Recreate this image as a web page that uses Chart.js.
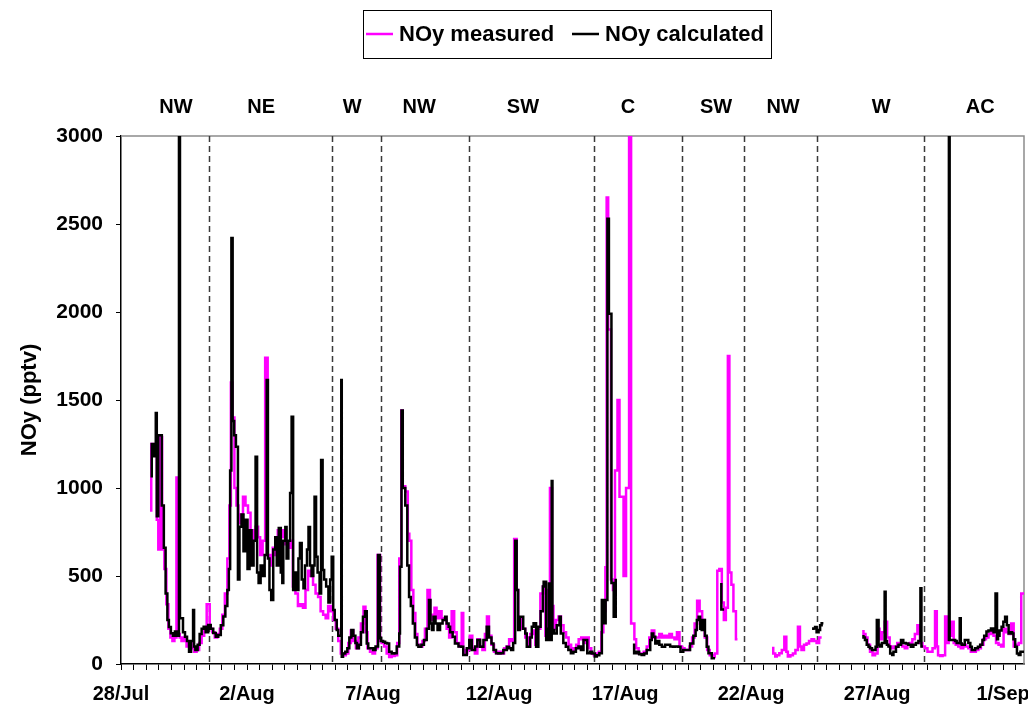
<!DOCTYPE html>
<html lang="en">
<head>
    <meta charset="UTF-8">
    <title>NOy measured vs calculated</title>
    <script src="https://cdn.jsdelivr.net/npm/chart.js"></script>
    <style>
        html, body { margin: 0; padding: 0; background: #fff; }
        #wrap { width: 1028px; height: 708px; }
    </style>
</head>
<body>
<div id="wrap"><canvas id="noyChart"></canvas></div>
<script>
// x values are days since 28 July 00:00
const xLabelDays = [0, 5, 10, 15, 20, 25, 30, 35];
const xLabels = ['28/Jul', '2/Aug', '7/Aug', '12/Aug', '17/Aug', '22/Aug', '27/Aug', '1/Sep'];

// air-mass sectors and the dashed boundaries between them
const sectorNames = ['NW', 'NE', 'W', 'NW', 'SW', 'C', 'SW', 'NW', 'W', 'AC'];
const sectorDays = [2.18, 5.56, 9.17, 11.83, 15.95, 20.12, 23.61, 26.27, 30.16, 34.09];
const boundaryDays = [3.49, 8.36, 10.30, 13.82, 18.77, 22.25, 24.73, 27.60, 31.87];

const measuredDays = [
    1.20, 1.34, 1.42, 1.48, 1.56, 1.63, 1.72, 1.80, 1.88, 1.96,
    2.04, 2.12, 2.20, 2.27, 2.33, 2.40, 2.50, 2.60, 2.70, 2.80,
    2.90, 3.00, 3.10, 3.20, 3.30, 3.40, 3.52, 3.62, 3.72, 3.82,
    3.92, 4.02, 4.12, 4.22, 4.30, 4.36, 4.42, 4.50, 4.58, 4.66,
    4.74, 4.84, 4.94, 5.04, 5.14, 5.24, 5.34, 5.44, 5.52, 5.62,
    5.72, 5.82, 5.92, 6.02, 6.12, 6.22, 6.32, 6.42, 6.52, 6.62,
    6.72, 6.82, 6.92, 7.02, 7.12, 7.22, 7.32, 7.42, 7.52, 7.62,
    7.72, 7.82, 7.92, 8.02, 8.12, 8.22, 8.32, 8.42, 8.52, 8.62,
    8.72, 8.82, 8.92, 9.02, 9.12, 9.22, 9.32, 9.42, 9.52, 9.62,
    9.70, 9.78, 9.88, 9.98, 10.08, 10.18, 10.28, 10.34, 10.44, 10.54,
    10.64, 10.74, 10.86, 10.96, 11.04, 11.12, 11.18, 11.28, 11.38, 11.44,
    11.52, 11.60, 11.68, 11.76, 11.86, 11.96, 12.06, 12.16, 12.26, 12.34,
    12.44, 12.52, 12.62, 12.72, 12.82, 12.92, 13.02, 13.12, 13.22, 13.32,
    13.42, 13.52, 13.58, 13.64, 13.74, 13.84, 13.94, 14.04, 14.14, 14.24,
    14.34, 14.44, 14.52, 14.60, 14.70, 14.80, 14.90, 15.00, 15.10, 15.20,
    15.30, 15.40, 15.50, 15.60, 15.70, 15.76, 15.84, 15.94, 16.04, 16.14,
    16.24, 16.34, 16.44, 16.54, 16.64, 16.74, 16.84, 16.92, 17.02, 17.10,
    17.16, 17.26, 17.36, 17.46, 17.56, 17.66, 17.76, 17.86, 17.96, 18.06,
    18.16, 18.26, 18.36, 18.46, 18.56, 18.66, 18.76, 18.86, 18.96, 19.06,
    19.14, 19.22, 19.27, 19.33, 19.44, 19.52, 19.60, 19.70, 19.78, 19.94,
    20.04, 20.16, 20.24, 20.37, 20.44, 20.54, 20.64, 20.74, 20.86, 20.96,
    21.06, 21.16, 21.26, 21.36, 21.46, 21.56, 21.66, 21.76, 21.86, 21.96,
    22.06, 22.16, 22.26, 22.36, 22.46, 22.56, 22.66, 22.76, 22.86, 22.96,
    23.06, 23.16, 23.26, 23.36, 23.46, 23.56, 23.66, 23.74, 23.84, 23.92,
    24.00, 24.08, 24.14, 24.22, 24.30, 24.40, 24.46, 24.50, 25.88, 25.96,
    26.02, 26.12, 26.22, 26.32, 26.40, 26.46, 26.56, 26.66, 26.76, 26.86,
    26.94, 27.00, 27.10, 27.20, 27.30, 27.40, 27.50, 27.60, 27.70, 27.80,
    27.90, 29.46, 29.54, 29.62, 29.72, 29.82, 29.92, 30.02, 30.10, 30.20,
    30.30, 30.40, 30.50, 30.60, 30.70, 30.80, 30.90, 31.00, 31.10, 31.20,
    31.30, 31.40, 31.50, 31.60, 31.70, 31.80, 31.90, 32.00, 32.10, 32.20,
    32.30, 32.37, 32.42, 32.50, 32.60, 32.70, 32.78, 32.84, 32.94, 33.04,
    33.12, 33.22, 33.32, 33.42, 33.52, 33.62, 33.72, 33.82, 33.92, 34.02,
    34.12, 34.22, 34.32, 34.42, 34.52, 34.62, 34.72, 34.82, 34.92, 35.02,
    35.12, 35.22, 35.32, 35.42, 35.52, 35.62, 35.72, 35.80, 35.83
];
const measuredNOy = [
    865, 1250, 1200, 820, 650, 1290, 650, 540, 340, 200,
    150, 130, 150, 1060, 170, 150, 130, 150, 100, 120,
    90, 70, 80, 120, 160, 200, 340, 200, 180, 150,
    170, 200, 280, 400, 600, 900, 1600, 1400, 1000, 900,
    800, 850, 950, 900, 860, 760, 700, 780, 720, 620,
    700, 1740, 620, 560, 660, 620, 760, 720, 760, 680,
    660, 700, 440, 400, 330, 340, 320, 420, 530, 500,
    450, 400, 380, 300, 280, 260, 330, 300, 250, 200,
    130, 60, 50, 60, 120, 190, 130, 90, 150, 230,
    325, 180, 90, 70, 60, 90, 620, 130, 120, 100,
    60, 40, 45, 50, 120, 600, 1440, 1010, 980, 740,
    700, 420, 290, 170, 110, 100, 130, 200, 420, 250,
    280, 320, 260, 300, 260, 250, 200, 150, 300, 180,
    120, 100, 290, 80, 60, 80, 160, 90, 60, 140,
    100, 80, 170, 270, 160, 110, 70, 60, 70, 60,
    90, 100, 140, 130, 710, 420, 200, 260, 200, 150,
    100, 170, 190, 110, 200, 400, 440, 160, 420, 1000,
    330, 200, 250, 270, 220, 180, 150, 110, 80, 90,
    110, 140, 150, 120, 150, 90, 60, 50, 60, 70,
    180, 300, 550, 2650, 1900, 480, 420, 1100, 1500, 950,
    500, 1000, 3300, 230, 140, 90, 60, 60, 70, 100,
    150, 190, 150, 150, 170, 150, 160, 150, 170, 150,
    140, 180, 100, 90, 80, 80, 100, 150, 230, 360,
    300, 250, 150, 80, 50, 40, 60, 530, 540, 350,
    250, 320, 1750, 520, 450, 300, 140, null, 98, 60,
    42, 50, 61, 80, 155, 70, 42, 50, 60, 80,
    212, 100, 80, 110, 117, 130, 140, 130, 120, 150,
    null, 193, 170, 150, 110, 70, 50, 60, 200, 140,
    180, 240, 150, 100, 90, 100, 120, 110, 100, 90,
    110, 120, 140, 170, 220, 120, 100, 90, 70, 70,
    90, 300, 100, 50, 45, 50, 270, 120, 160, 240,
    120, 110, 100, 90, 110, 100, 90, 70, 70, 80,
    90, 110, 140, 150, 170, 180, 160, 120, 110, 100,
    200, 180, 170, 230, 100, 110, 120, 400, 400
];

const calculatedDays = [
    1.22, 1.30, 1.38, 1.42, 1.48, 1.62, 1.70, 1.77, 1.84, 1.90,
    1.98, 2.06, 2.14, 2.22, 2.30, 2.34, 2.46, 2.54, 2.62, 2.70,
    2.78, 2.86, 2.90, 2.95, 3.04, 3.12, 3.20, 3.28, 3.36, 3.46,
    3.56, 3.66, 3.76, 3.86, 3.96, 4.06, 4.14, 4.22, 4.28, 4.33,
    4.38, 4.43, 4.49, 4.56, 4.64, 4.70, 4.78, 4.86, 4.94, 5.02,
    5.10, 5.18, 5.26, 5.34, 5.40, 5.46, 5.54, 5.62, 5.70, 5.78,
    5.83, 5.89, 5.96, 6.04, 6.12, 6.18, 6.26, 6.34, 6.40, 6.44,
    6.52, 6.57, 6.64, 6.71, 6.77, 6.83, 6.89, 6.96, 7.04, 7.10,
    7.17, 7.24, 7.30, 7.38, 7.44, 7.50, 7.56, 7.63, 7.68, 7.74,
    7.80, 7.88, 7.94, 8.00, 8.06, 8.14, 8.23, 8.30, 8.36, 8.42,
    8.48, 8.56, 8.62, 8.74, 8.76, 8.81, 8.90, 8.98, 9.06, 9.14,
    9.22, 9.30, 9.36, 9.44, 9.52, 9.60, 9.68, 9.75, 9.81, 9.90,
    10.00, 10.10, 10.20, 10.27, 10.32, 10.40, 10.48, 10.56, 10.64, 10.74,
    10.84, 10.94, 11.04, 11.07, 11.13, 11.18, 11.28, 11.36, 11.43, 11.50,
    11.58, 11.66, 11.74, 11.80, 11.92, 12.02, 12.13, 12.22, 12.28, 12.34,
    12.40, 12.48, 12.56, 12.66, 12.76, 12.86, 12.92, 13.00, 13.06, 13.16,
    13.25, 13.39, 13.50, 13.58, 13.72, 13.82, 13.92, 14.05, 14.14, 14.25,
    14.38, 14.51, 14.60, 14.70, 14.78, 14.88, 14.97, 15.06, 15.17, 15.31,
    15.40, 15.48, 15.56, 15.64, 15.70, 15.76, 15.83, 15.96, 16.04, 16.10,
    16.23, 16.30, 16.37, 16.47, 16.56, 16.65, 16.74, 16.77, 16.87, 16.92,
    16.98, 17.02, 17.09, 17.12, 17.18, 17.29, 17.40, 17.45, 17.55, 17.65,
    17.75, 17.85, 17.95, 18.05, 18.15, 18.25, 18.35, 18.50, 18.61, 18.70,
    18.80, 18.88, 18.98, 19.08, 19.16, 19.23, 19.30, 19.36, 19.46, 19.55,
    19.63, 19.68, 19.74, 20.36, 20.46, 20.56, 20.66, 20.76, 20.86, 20.93,
    21.00, 21.06, 21.12, 21.20, 21.26, 21.36, 21.46, 21.59, 21.70, 21.79,
    21.90, 21.98, 22.10, 22.20, 22.31, 22.44, 22.58, 22.71, 22.80, 22.85,
    22.92, 22.98, 23.04, 23.08, 23.17, 23.24, 23.31, 23.44, 23.57, 23.62,
    23.82, 23.88, 23.93, 23.95, 27.47, 27.54, 27.60, 27.68, 27.74, 27.80,
    27.87, 27.90, 29.46, 29.52, 29.59, 29.66, 29.72, 29.80, 29.85, 29.94,
    29.99, 30.06, 30.10, 30.19, 30.30, 30.34, 30.39, 30.45, 30.52, 30.60,
    30.65, 30.75, 30.85, 30.95, 31.04, 31.14, 31.24, 31.34, 31.44, 31.54,
    31.64, 31.72, 31.76, 31.82, 31.84, 32.85, 32.88, 33.02, 33.10, 33.16,
    33.28, 33.32, 33.36, 33.48, 33.62, 33.70, 33.76, 33.89, 34.00, 34.09,
    34.18, 34.25, 34.34, 34.42, 34.52, 34.62, 34.70, 34.76, 34.80, 34.86,
    34.94, 35.01, 35.08, 35.15, 35.22, 35.28, 35.36, 35.41, 35.48, 35.55,
    35.62, 35.69, 35.78, 35.83
];
const calculatedNOy = [
    1060, 1250, 1180, 1426, 840, 1300, 900, 660, 400, 250,
    210, 175, 160, 185, 160, 3500, 260, 180, 155, 130,
    70, 130, 307, 100, 80, 110, 170, 200, 212, 180,
    222, 200, 176, 155, 165, 220, 270, 330, 420, 540,
    1100, 2420, 1380, 1300, 1235, 480, 780, 850, 640, 820,
    540, 760, 560, 700, 1178, 520, 460, 560, 500, 620,
    1614, 600, 420, 364, 650, 720, 560, 773, 520, 460,
    700, 778, 600, 700, 972, 1405, 420, 520, 420, 600,
    688, 480, 430, 560, 650, 778, 560, 500, 560, 950,
    610, 520, 400, 1159, 534, 480, 440, 350, 480, 610,
    307, 250, 193, 160, 1614, 41, 60, 70, 90, 150,
    193, 160, 120, 90, 110, 180, 269, 300, 117, 90,
    89, 80, 100, 620, 146, 130, 127, 120, 117, 70,
    60, 61, 100, 174, 553, 1440, 1000, 900, 560, 380,
    330, 230, 150, 108, 98, 110, 136, 200, 364, 230,
    193, 269, 230, 193, 230, 250, 269, 230, 212, 180,
    155, 117, 100, 98, 51, 90, 136, 80, 100, 136,
    98, 136, 212, 150, 117, 80, 61, 60, 61, 80,
    98, 90, 80, 120, 700, 420, 193, 269, 200, 174,
    98, 150, 212, 231, 98, 212, 300, 440, 468, 136,
    200, 458, 136, 1040, 193, 174, 220, 269, 174, 120,
    98, 80, 61, 70, 89, 100, 80, 136, 61, 70,
    60, 42, 50, 61, 364, 231, 364, 2530, 1990, 460,
    269, 477, null, 117, 61, 70, 55, 51, 60, 80,
    80, 136, 174, 155, 117, 130, 110, 98, 110, 110,
    100, 98, 100, 98, 70, 80, 80, 117, 160, 193,
    250, 269, 200, 193, 250, 160, 98, 61, 33, null,
    460, 310, 310, null, 193, 202, 210, 180, 193, 220,
    231, null, 165, 150, 136, 110, 98, 90, 80, 80,
    98, 250, 110, 100, 120, 410, 130, 110, 100, 60,
    51, 70, 98, 110, 136, 120, 117, 110, 98, 110,
    120, 130, 430, 100, null, 130, 3500, 136, 136, 130,
    120, 260, 117, 110, 136, 120, 98, 80, 90, 98,
    110, 136, 160, 184, 190, 202, 180, 401, 140, 160,
    190, 212, 240, 269, 220, 174, 180, 174, 140, 98,
    60, 51, 70, 70
];

const fontFamily = "'Liberation Sans', Arial, sans-serif";

function toPoints(days, values) {
    return days.map((d, i) => ({ x: d, y: values[i] }));
}

// dashed sector boundaries, sector names, plot frame and boxed legend
const sectorPlugin = {
    id: 'sectors',
    beforeDatasetsDraw(chart) {
        const { ctx, chartArea: a, scales: { x } } = chart;
        ctx.save();
        ctx.strokeStyle = '#8c8c8c';
        ctx.lineWidth = 1.5;
        ctx.beginPath();
        ctx.moveTo(a.left, a.top);
        ctx.lineTo(a.right, a.top);
        ctx.lineTo(a.right, a.bottom);
        ctx.stroke();

        ctx.strokeStyle = '#3a3a3a';
        ctx.lineWidth = 1.5;
        ctx.setLineDash([6, 4]);
        boundaryDays.forEach(d => {
            const px = Math.round(x.getPixelForValue(d)) + 0.5;
            ctx.beginPath();
            ctx.moveTo(px, a.top);
            ctx.lineTo(px, a.bottom);
            ctx.stroke();
        });
        ctx.restore();
    },
    afterDraw(chart) {
        const { ctx, chartArea: a, scales: { x } } = chart;
        ctx.save();
        ctx.fillStyle = '#000';
        ctx.font = 'bold 20px ' + fontFamily;
        ctx.textAlign = 'center';
        ctx.textBaseline = 'middle';
        sectorNames.forEach((name, i) => {
            ctx.fillText(name, x.getPixelForValue(sectorDays[i]), a.top - 29);
        });

        // legend box
        ctx.strokeStyle = '#000';
        ctx.lineWidth = 1;
        ctx.strokeRect(363.5, 10.5, 408, 48);
        const items = [
            { label: 'NOy measured', color: '#ff00ff', x: 366 },
            { label: 'NOy calculated', color: '#000000', x: 572 }
        ];
        ctx.font = 'bold 22px ' + fontFamily;
        ctx.textAlign = 'left';
        items.forEach(it => {
            ctx.strokeStyle = it.color;
            ctx.lineWidth = 2.5;
            ctx.beginPath();
            ctx.moveTo(it.x, 34);
            ctx.lineTo(it.x + 27, 34);
            ctx.stroke();
            ctx.fillText(it.label, it.x + 33, 35);
        });
        ctx.restore();
    }
};

new Chart(document.getElementById('noyChart'), {
    type: 'line',
    data: {
        datasets: [
            {
                label: 'NOy measured',
                data: toPoints(measuredDays, measuredNOy),
                borderColor: '#ff00ff',
                borderWidth: 2.5,
                stepped: 'after',
                order: 1,
                clip: 0
            },
            {
                label: 'NOy calculated',
                data: toPoints(calculatedDays, calculatedNOy),
                borderColor: '#000000',
                borderWidth: 2.5,
                stepped: 'after',
                order: 0,
                clip: 0
            }
        ]
    },
    options: {
        responsive: true,
        maintainAspectRatio: false,
        animation: false,
        events: [],
        layout: { padding: { top: 136, right: 4, bottom: 0, left: 0 } },
        elements: { point: { radius: 0 }, line: { tension: 0 } },
        plugins: {
            legend: { display: false },
            tooltip: { enabled: false }
        },
        scales: {
            x: {
                type: 'linear',
                min: 0,
                max: 35.83,
                afterFit(s) {
                    s.height = 44;
                    s.paddingLeft = 0;
                    s.paddingRight = 0;
                },
                grid: { drawOnChartArea: false, drawTicks: true, tickLength: 6, color: '#000' },
                border: { display: true, color: '#000', width: 1.5 },
                ticks: {
                    stepSize: 0.5,
                    autoSkip: false,
                    includeBounds: false,
                    maxRotation: 0,
                    padding: 12,
                    color: '#000',
                    font: { family: fontFamily, size: 20, weight: 'bold' },
                    callback: v => {
                        const i = xLabelDays.findIndex(d => Math.abs(d - v) < 1e-6);
                        return i >= 0 ? xLabels[i] : '';
                    }
                }
            },
            y: {
                min: 0,
                max: 3000,
                afterFit(s) {
                    s.width = 121;
                    s.paddingTop = 0;
                    s.paddingBottom = 0;
                },
                grid: { drawOnChartArea: false, drawTicks: true, tickLength: 5, color: '#000' },
                border: { display: true, color: '#000', width: 1.5 },
                ticks: {
                    stepSize: 500,
                    padding: 13,
                    color: '#000',
                    font: { family: fontFamily, size: 21, weight: 'bold' },
                    callback: v => String(v)
                },
                title: {
                    display: true,
                    text: 'NOy (pptv)',
                    color: '#000',
                    padding: { top: 17, bottom: 0 },
                    font: { family: fontFamily, size: 22, weight: 'bold' }
                }
            }
        }
    },
    plugins: [sectorPlugin]
});
</script>
</body>
</html>
